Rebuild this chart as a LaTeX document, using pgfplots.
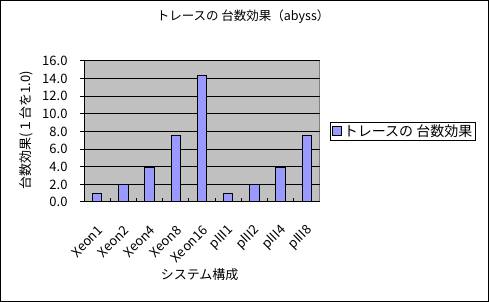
\documentclass[border=0pt]{standalone}
\usepackage{fontspec}
\setmainfont{Noto Sans CJK JP}
\usepackage{pgfplots}
\pgfplotsset{compat=1.18}
\definecolor{plotgray}{HTML}{C0C0C0}
\definecolor{barblue}{HTML}{9999FF}
\definecolor{edgegray}{HTML}{808080}
\newcommand{\fs}{\fontsize{13bp}{15bp}\selectfont}
\begin{document}
\fs
\begin{tikzpicture}
\useasboundingbox (0,0) rectangle (489bp,302bp);
\draw[black, line width=1bp] (0.5bp,0.5bp) rectangle (488.5bp,301.5bp);
\begin{axis}[
  at={(84bp,100bp)}, anchor=south west,
  scale only axis, width=236bp, height=141bp,
  xmin=-0.5, xmax=8.5, ymin=0, ymax=16,
  axis background/.style={fill=plotgray, draw=edgegray, line width=1bp},
  axis x line*=bottom, axis y line*=left,
  axis line style={-, black, line width=1bp},
  ytick={0,2,...,16},
  /pgf/number format/fixed, /pgf/number format/fixed zerofill, /pgf/number format/precision=1,
  /pgf/number format/assume math mode=true,
  ymajorgrids, major grid style={black, line width=1bp},
  ytick style={black, line width=1bp},
  tick align=outside, major tick length=4bp,
  y tick label style={xshift=-8bp, font=\fs},
  xtick={0,...,8},
  xticklabels={Xeon1,Xeon2,Xeon4,Xeon8,Xeon16,pIII1,pIII2,pIII4,pIII8},
  xtick style={draw=none},
  x tick label style={rotate=45, anchor=east, xshift=-9bp, yshift=-18bp, font=\fs},
  extra x ticks={0.5,1.5,...,7.5},
  extra x tick labels={},
  extra x tick style={tick align=inside, xtick style={draw=black, line width=1bp}, major tick length=4bp, grid=none},
  ybar, bar width=0.36,
  title={トレースの 台数効果（abyss）},
  title style={at={(axis description cs:0.674,1.27)}, anchor=center, font=\fontsize{12.5bp}{15bp}\selectfont},
  xlabel={システム構成},
  xlabel style={at={(axis description cs:0.49,-0.518)}, anchor=center, font=\fs},
  ylabel={台数効果(１台を1.0)},
  ylabel style={at={(axis description cs:-0.246,0.51)}, anchor=center, rotate=0, font=\fs},
  legend style={at={(axis description cs:1.042,0.567)}, anchor=north west, draw=black, line width=1bp, fill=white, inner xsep=1.5bp, inner ysep=0bp, font=\fontsize{14bp}{16bp}\selectfont},
  legend image code/.code={\draw[#1, line width=1bp] (0bp,-4.5bp) rectangle (9bp,4.5bp);},
]
\addplot[fill=barblue, draw=black, line width=1bp] coordinates {
(0,1.0) (1,2.0) (2,3.9) (3,7.55) (4,14.3) (5,1.0) (6,2.0) (7,3.9) (8,7.55)};
\addlegendentry{トレースの 台数効果}
\end{axis}
\end{tikzpicture}
\end{document}
